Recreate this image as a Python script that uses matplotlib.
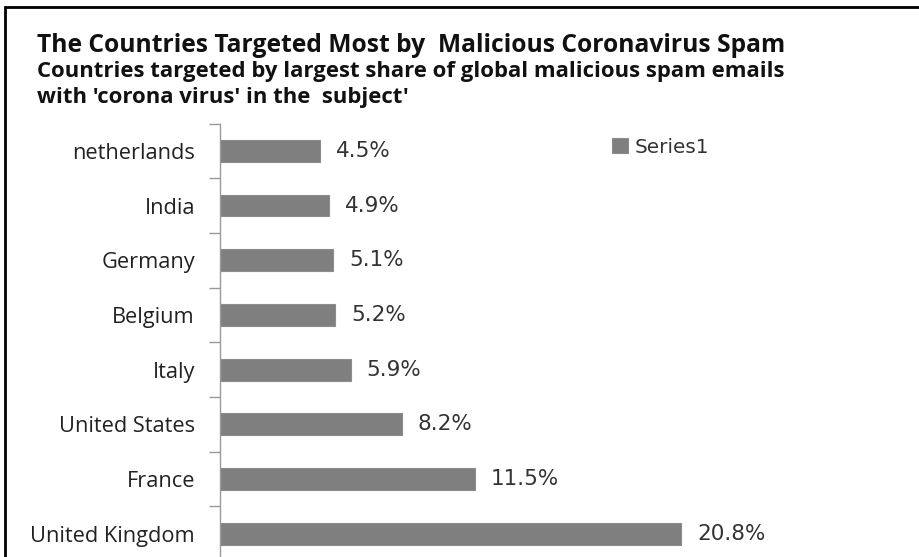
import matplotlib.pyplot as plt
from matplotlib.patches import Rectangle

countries = ["United Kingdom", "France", "United States", "Italy",
             "Belgium", "Germany", "India", "netherlands"]
shares = [20.8, 11.5, 8.2, 5.9, 5.2, 5.1, 4.9, 4.5]
labels = ["20.8%", "11.5%", "8.2%", "5.9%", "5.2%", "5.1%", "4.9%", "4.5%"]

title = "The Countries Targeted Most by  Malicious Coronavirus Spam"
sub1 = "Countries targeted by largest share of global malicious spam emails"
sub2 = "with 'corona virus' in the  subject'"

W, H = 920, 557
fig = plt.figure(figsize=(W / 100, H / 100), dpi=100)
renderer = fig.canvas.get_renderer()
FONT = "Open Sans"


def fit_size(s, width_px, weight="normal", family=FONT):
    # font size that makes string s about width_px wide
    t = fig.text(0, 0, s, fontsize=10, fontweight=weight, family=family)
    w = t.get_window_extent(renderer).width
    t.remove()
    return 10 * width_px / w


# outer frame (left and top edges only visible)
fig.patches.append(Rectangle((5 / W, -0.1), 1.2, (H - 7) / H + 0.1,
                             transform=fig.transFigure, fill=False,
                             edgecolor="black", linewidth=2))

ts = fit_size(title, 750, "bold")
ss = fit_size(sub1, 750, "bold")
fig.text(37 / W, 1 - 45 / H, title, fontsize=ts, fontweight="bold", family=FONT,
         va="center", color="#111111")
fig.text(37 / W, 1 - 71 / H, sub1, fontsize=ss, fontweight="bold", family=FONT,
         va="center", color="#111111")
fig.text(37 / W, 1 - 97 / H, sub2, fontsize=ss, fontweight="bold", family=FONT,
         va="center", color="#111111")

left, right, top, bottom = 220, 900, 123.5, 561
ax = fig.add_axes([left / W, 1 - bottom / H, (right - left) / W, (bottom - top) / H])

y = list(range(len(countries)))
ax.barh(y, shares, height=0.4, color="#7f7f7f", edgecolor="#8c8c8c",
        linewidth=0.8, label="Series1")
ax.set_xlim(0, (right - left) / 22.16)
ax.set_ylim(-0.5, len(countries) - 0.5)

ds = fit_size("20.8%", 68, family="DejaVu Sans")
for yi, v, t in zip(y, shares, labels):
    ax.text(v + 0.72, yi, t, va="center", ha="left", fontsize=ds,
            family="DejaVu Sans", color="#333333")

cs = fit_size("United Kingdom", 165)
ax.set_yticks(y)
ax.set_yticklabels(countries, fontsize=cs, family=FONT, color="#222222")
ax.set_yticks([i - 0.5 for i in range(len(countries) + 1)], minor=True)
ax.tick_params(axis="y", which="major", length=0, pad=18)
ax.tick_params(axis="y", which="minor", length=8, color="#999999", width=1)
ax.set_xticks([])
for s in ["top", "right", "bottom"]:
    ax.spines[s].set_visible(False)
ax.spines["left"].set_color("#999999")
ax.spines["left"].set_linewidth(1)

ls = fit_size("Series1", 74, family="DejaVu Sans")
leg = ax.legend(loc="upper left", bbox_to_anchor=((598 - left) / (right - left), 1.0),
                frameon=False, prop={"size": ls, "family": "DejaVu Sans"},
                handlelength=0.8, handleheight=0.8, handletextpad=0.35,
                borderaxespad=0.3)
for t in leg.get_texts():
    t.set_color("#333333")

fig.savefig("out.png", dpi=100)
